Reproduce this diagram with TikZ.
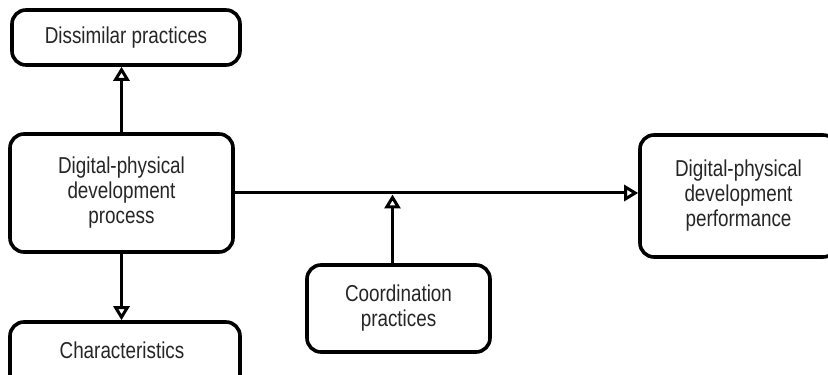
\documentclass[tikz,border=0pt]{standalone}
\usepackage{fontspec}
\setmainfont{Liberation Sans}[FakeStretch=0.82]
\usetikzlibrary{arrows.meta}
\begin{document}
\begin{tikzpicture}[x=1pt,y=1pt,
  box/.style={draw=black, line width=3.6pt, rounded corners=14pt, fill=white,
    align=center, text=black!85, inner sep=0pt,
    font=\fontsize{23}{25}\selectfont},
  tip/.style={-{Triangle[open,length=14pt,width=16pt,line width=3pt]}},
  arr/.style={line width=3.4pt, tip},
  conn/.style={line width=3pt, tip}]
\useasboundingbox (0,0) rectangle (828,375);
\clip (0,0) rectangle (828,375);
\node[box, minimum width=228pt, minimum height=55pt] (dis) at (126,337.5) {Dissimilar practices};
\node[box, minimum width=223pt, minimum height=118pt] (dp) at (121.5,182) {Digital-physical\\development\\process};
\node[box, minimum width=197pt, minimum height=122pt] (perf) at (738.5,179) {Digital-physical\\development\\performance};
\node[box, minimum width=230pt, minimum height=74pt] (char) at (125,16) {};
\node[text=black!85, font=\fontsize{23}{25}\selectfont] (chartext) at (122,25) {Characteristics};
\node[box, minimum width=183pt, minimum height=87pt] (coord) at (398.5,66.5) {Coordination\\practices};
\draw[arr] (dp.north) -- (dp.north |- dis.south);
\draw[arr] (dp.south) -- (dp.south |- char.north);
\draw[conn] (dp.east) -- (dp.east -| perf.west);
\coordinate (join) at (coord.north |- dp.east);
\draw[arr] ([xshift=-6pt]coord.north) -- ([xshift=-6pt,yshift=-1.5pt]join);
\end{tikzpicture}
\end{document}
